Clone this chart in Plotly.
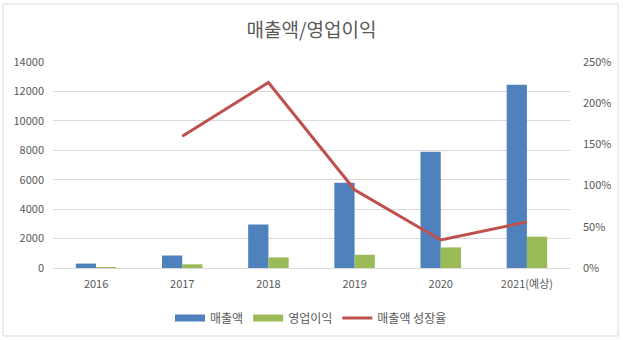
import plotly.graph_objects as go
from plotly.subplots import make_subplots

categories = ["2016", "2017", "2018", "2019", "2020", "2021(예상)"]
revenue = [300, 850, 2950, 5800, 7900, 12450]
op_profit = [50, 250, 720, 900, 1400, 2130]
growth = [None, 1.60, 2.25, 0.95, 0.34, 0.56]

W, H = 623, 340
L, R, T, B = 53, 570, 62, 268
pw, ph = R - L, B - T

def px_x(p):
    return (p - L) / pw

def px_y(p):
    return (B - p) / ph

font_family = "Noto Sans CJK KR, Noto Sans, sans-serif"
grey = "#595959"
c_rev, c_op, c_gr = "#4F81BD", "#9BBB59", "#C0504D"

fig = make_subplots(specs=[[{"secondary_y": True}]])
fig.add_trace(go.Bar(x=categories, y=revenue, name="매출액", showlegend=False,
                     legendgroup="rev",
                     marker=dict(color=c_rev, line=dict(width=0))),
              secondary_y=False)
fig.add_trace(go.Bar(x=categories, y=op_profit, name="영업이익", showlegend=False,
                     legendgroup="op",
                     marker=dict(color=c_op, line=dict(width=0))),
              secondary_y=False)
fig.add_trace(go.Scatter(x=categories, y=growth, name="매출액 성장율",
                         showlegend=False, legendgroup="gr",
                         mode="lines", line=dict(color=c_gr, width=3)),
              secondary_y=True)
# legend entries (Excel-style wide swatches)
for name, col, w, grp in [("매출액", c_rev, 7, "rev"), ("영업이익", c_op, 7, "op"),
                          ("매출액 성장율", c_gr, 3, "gr")]:
    fig.add_trace(go.Scatter(x=[None], y=[None], name=name, legendgroup=grp,
                             mode="lines", line=dict(color=col, width=w)),
                  secondary_y=False)

fig.update_layout(
    width=W, height=H,
    margin=dict(l=L, r=W - R, t=T, b=H - B, autoexpand=False),
    paper_bgcolor="white", plot_bgcolor="white",
    font=dict(family=font_family, size=11, color=grey),
    barmode="group", bargap=0.53, bargroupgap=0,
    title=dict(text="매출액/영업이익", x=0.5, xanchor="center",
               y=1 - 30 / H, yanchor="middle",
               font=dict(size=19, color=grey, family=font_family)),
    legend=dict(orientation="h", x=px_x(311), xanchor="center",
                y=px_y(318), yanchor="middle",
                font=dict(size=12, color=grey), itemwidth=30,
                bgcolor="rgba(0,0,0,0)"),
    shapes=[dict(type="rect", xref="paper", yref="paper",
                 x0=px_x(3), x1=px_x(618), y0=px_y(336), y1=px_y(4),
                 line=dict(color="#D9D9D9", width=1), layer="below")],
)
fig.update_xaxes(domain=[0, 1], showgrid=False, showline=True, linecolor="#D9D9D9",
                 ticks="", ticklabelstandoff=6, tickfont=dict(size=11, color=grey))
fig.update_yaxes(range=[0, 14000], dtick=2000, showgrid=True,
                 gridcolor="#D9D9D9", zeroline=False, showline=False,
                 tickformat="d", ticks="", ticklabelstandoff=8,
                 tickfont=dict(size=11, color=grey),
                 secondary_y=False)
fig.update_yaxes(range=[0, 2.5], dtick=0.5, showgrid=False, zeroline=False,
                 tickformat=".0%", ticks="", ticklabelstandoff=12,
                 anchor="x", side="right", overlaying="y",
                 tickfont=dict(size=11, color=grey),
                 secondary_y=True)

fig.write_html("out.html")
